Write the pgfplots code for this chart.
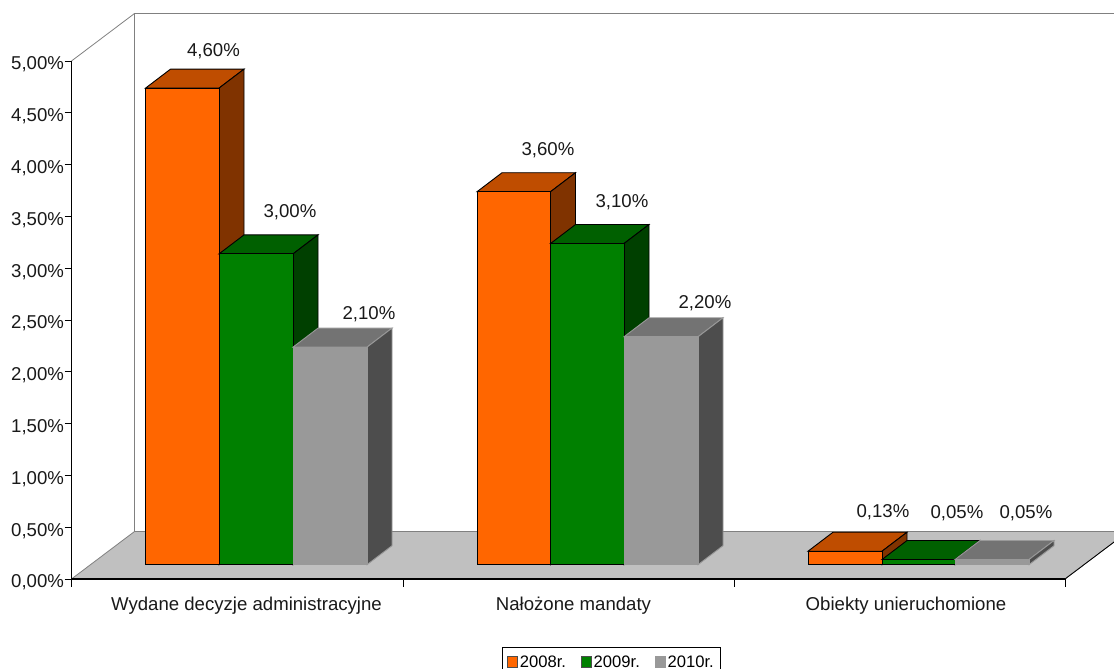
\documentclass[border=0pt]{standalone}
\usepackage{fontspec}
\setmainfont{Liberation Sans}
\usepackage{pgfplots}
\pgfplotsset{compat=1.18}

\definecolor{orangeF}{HTML}{FF6600}\definecolor{orangeT}{HTML}{BF4D00}\definecolor{orangeS}{HTML}{803300}
\definecolor{greenF}{HTML}{008000}\definecolor{greenT}{HTML}{006000}\definecolor{greenS}{HTML}{004000}
\definecolor{greyF}{HTML}{999999}\definecolor{greyT}{HTML}{737373}\definecolor{greyS}{HTML}{4D4D4D}
\definecolor{floorC}{HTML}{C0C0C0}\definecolor{wallE}{HTML}{808080}

% Chart depth of the box: right and up; y values are in percent
\newcommand{\base}{0.138}
\newcommand{\depthx}{25}
\newcommand{\depthy}{0.1834}

% One 3D column: left x, right x, value, colour stem, edge colour
\newcommand{\column}[5]{%
  \pgfmathsetmacro{\yb}{\base}%
  \pgfmathsetmacro{\yt}{\base+#3}%
  \pgfmathsetmacro{\ybb}{\base+\depthy}%
  \pgfmathsetmacro{\ytb}{\base+#3+\depthy}%
  \pgfmathsetmacro{\xlb}{#1+\depthx}%
  \pgfmathsetmacro{\xrb}{#2+\depthx}%
  \edef\temp{%
    \noexpand\addplot[fill=#4T,draw=#5,line width=0.9pt,forget plot] coordinates {(#1,\yt) (#2,\yt) (\xrb,\ytb) (\xlb,\ytb)} -- cycle;
    \noexpand\addplot[fill=#4S,draw=#5,line width=0.9pt,forget plot] coordinates {(#2,\yb) (\xrb,\ybb) (\xrb,\ytb) (#2,\yt)} -- cycle;
    \noexpand\addplot[fill=#4F,draw=#5,line width=0.9pt,forget plot] coordinates {(#1,\yb) (#2,\yb) (#2,\yt) (#1,\yt)} -- cycle;
  }\temp
}
\newcommand{\vallabel}[3]{\node[font=\fontsize{18.6}{20}\selectfont,text=black!90] at (axis cs:#1,#2) {#3};}

\begin{document}
\begin{tikzpicture}[x=1pt,y=1pt]
\useasboundingbox (0,0) rectangle (1114,669);
\begin{axis}[
  at={(71.5pt,90pt)}, anchor=south west,
  scale only axis, width=993.5pt, height=518pt,
  xmin=71.5, xmax=1065, ymin=0, ymax=5,
  clip=false, axis on top,
  axis lines=left, axis line style={-, black, line width=1.1pt},
  tick align=outside,
  ytick={0,0.5,...,5},
  yticklabel={\pgfmathprintnumber{\tick}\%},
  yticklabel style={font=\fontsize{18.6}{20}\selectfont, text=black!90, yshift=-3.5pt, xshift=3pt,
    /pgf/number format/fixed, /pgf/number format/fixed zerofill, /pgf/number format/precision=2,
    /pgf/number format/use comma, /pgf/number format/assume math mode=true},
  xtick={246.5,573.5,906},
  xticklabels={Wydane decyzje administracyjne, Nałożone mandaty, Obiekty unieruchomione},
  xticklabel style={font=\fontsize{18.6}{20}\selectfont, text=black!90, yshift=-7pt},
  minor xtick={71.5,403,734,1065},
  major tick length=7pt, minor tick length=8pt,
  x tick style={black, line width=0.9pt, /pgfplots/major tick length=0pt},
  y tick style={black, line width=0.9pt},
  legend columns=3,
  legend style={at={(0.5435,-0.1313)}, anchor=north, draw=black, line width=0.8pt,
    font=\fontsize{16.6}{18}\selectfont, inner xsep=5pt, inner ysep=6pt,
    /tikz/every even column/.append style={column sep=13pt}},
  legend image code/.code={\draw[#1, line width=0.7pt] (2pt,-5.5pt) rectangle (12pt,5.5pt);},
]
% back wall outline and floor
\addplot[draw=wallE, line width=0.8pt, forget plot] coordinates {(71.5,5) (134.5,5.4585) (1130,5.4585)};
\addplot[draw=wallE, line width=0.8pt, forget plot] coordinates {(134.5,5.4585) (134.5,0.4585)};
\addplot[fill=floorC, draw=wallE, line width=0.8pt, forget plot] coordinates {(71.5,0) (134.5,0.4585) (1128,0.4585) (1065,0)} -- cycle;
\addplot[draw=black, line width=0.8pt, forget plot] coordinates {(1065,0) (1128,0.4585)};

\column{145.5}{219}{4.60}{orange}{black}
\column{219}{293}{3.00}{green}{black}
\column{293}{367}{2.10}{grey}{greyF}
\column{477}{550.5}{3.60}{orange}{black}
\column{550.5}{624}{3.10}{green}{black}
\column{624}{698}{2.20}{grey}{greyF}
\column{808}{882}{0.13}{orange}{black}
\column{882}{955}{0.05}{green}{black}
\column{955}{1029}{0.05}{grey}{greyF}

\addlegendimage{draw=black!70, fill=orangeF}\addlegendentry{2008r.}
\addlegendimage{draw=black!70, fill=greenF}\addlegendentry{2009r.}
\addlegendimage{draw=greyF, fill=greyF}\addlegendentry{2010r.}

\vallabel{213.5}{5.09}{4,60\%}
\vallabel{290}{3.536}{3,00\%}
\vallabel{369}{2.552}{2,10\%}
\vallabel{548}{4.135}{3,60\%}
\vallabel{622}{3.633}{3,10\%}
\vallabel{705}{2.658}{2,20\%}
\vallabel{883}{0.64}{0,13\%}
\vallabel{957}{0.635}{0,05\%}
\vallabel{1026}{0.635}{0,05\%}
\end{axis}
\end{tikzpicture}
\end{document}
